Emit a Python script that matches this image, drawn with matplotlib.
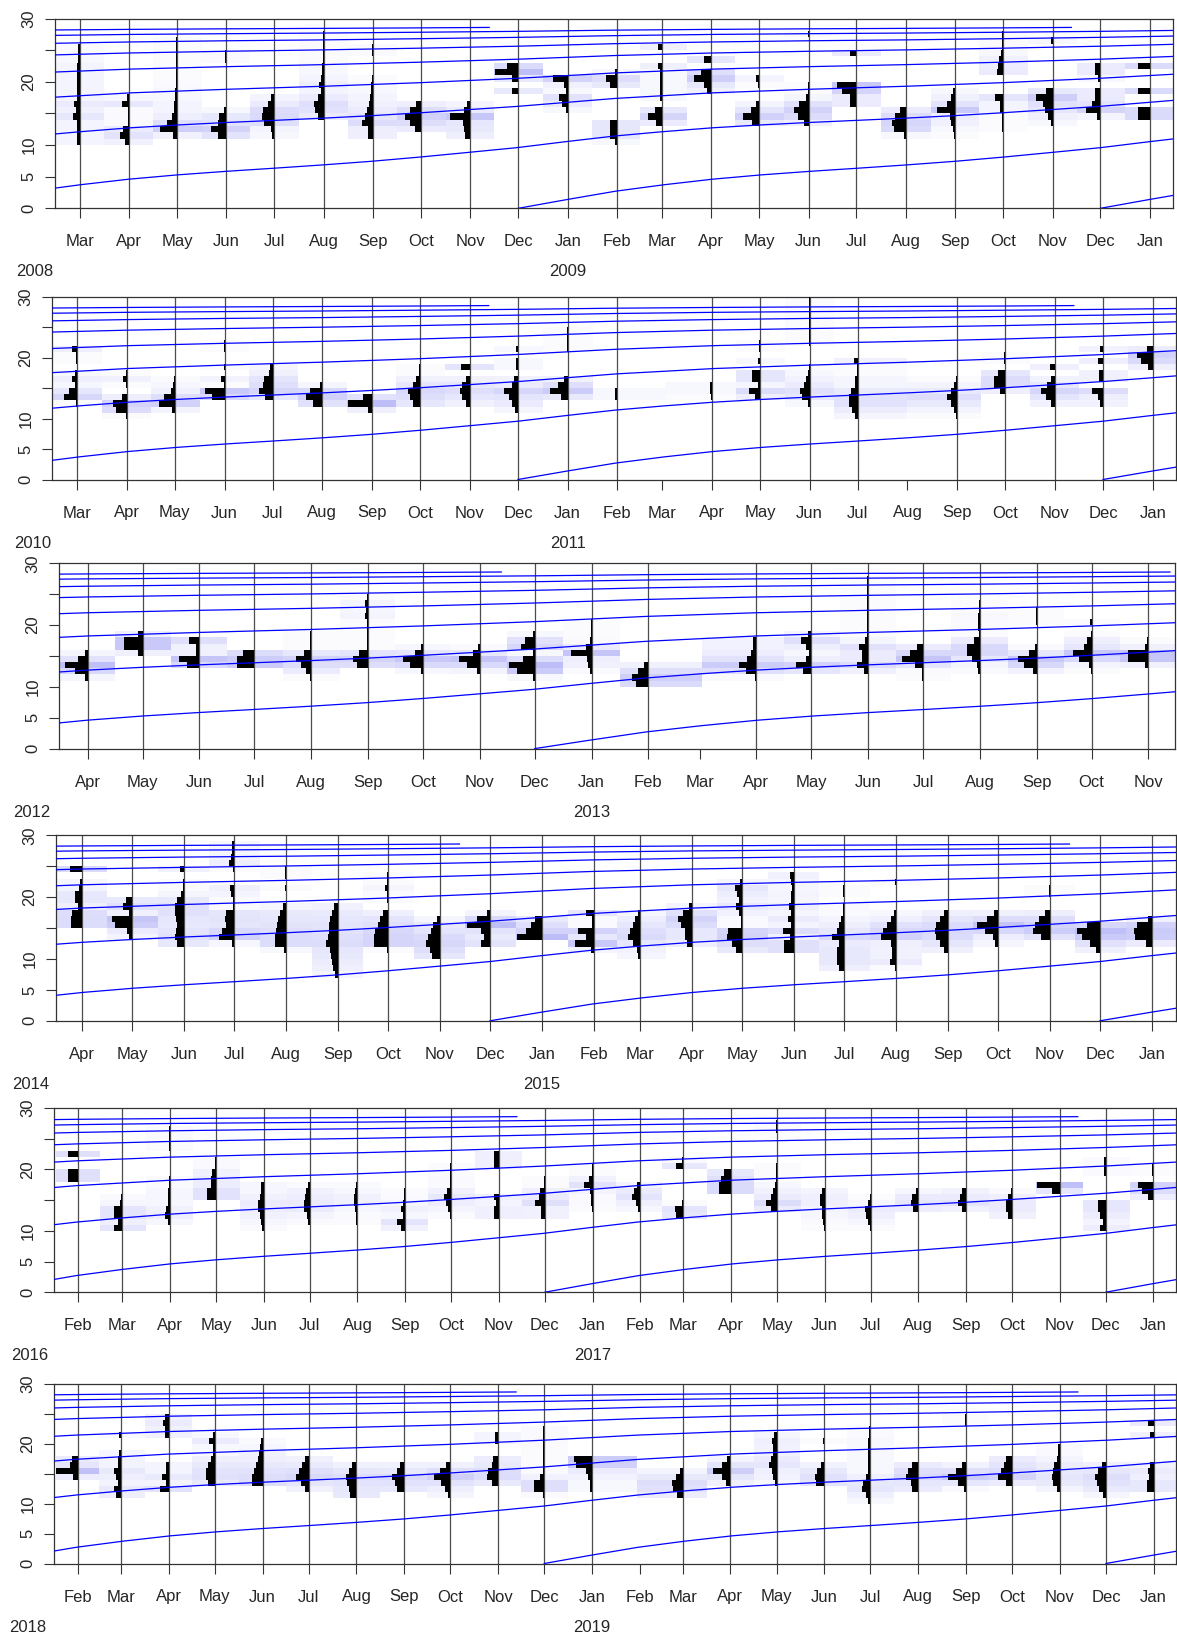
import datetime as dt
import numpy as np
import matplotlib
matplotlib.use("Agg")
import matplotlib.pyplot as plt
import matplotlib.dates as mdates
from matplotlib.transforms import offset_copy

plt.rcParams['font.family'] = ['Liberation Sans', 'DejaVu Sans']

# ---------------------------------------------------------------- data
# growth curve (length at age, age in months since the 1 Dec birth date)
GROWTH_AGE_MONTHS = [0, 1, 2, 3, 4, 5, 6, 7, 8, 9, 10, 11, 12, 13, 14, 15, 16, 17, 18,
                     19, 20, 21, 22, 23, 24, 26, 28, 30, 32, 34, 36, 38, 40, 42, 44, 46,
                     48, 50, 52, 54, 56, 58, 60, 62, 64, 66, 68, 70, 72, 74, 76, 78, 80,
                     82, 84, 86, 88, 90, 92, 94, 95.4]
GROWTH_LEN = [0, 1.38, 2.70, 3.72, 4.60, 5.28, 5.84, 6.34, 6.86, 7.43, 8.10, 8.84, 9.59,
              10.53, 11.42, 12.11, 12.71, 13.17, 13.56, 13.90, 14.25, 14.64, 15.10, 15.60,
              16.11, 17.36, 18.24, 18.81, 19.29, 19.86, 20.55, 21.40, 22.00, 22.39, 22.71,
              23.10, 23.57, 24.15, 24.55, 24.82, 25.04, 25.31, 25.62, 26.02, 26.29, 26.48,
              26.62, 26.81, 27.02, 27.29, 27.48, 27.60, 27.70, 27.83, 27.97, 28.16, 28.28,
              28.37, 28.44, 28.52, 28.59]

# sample months and length-frequency (bin lower bound -> relative frequency)
P1_DATES = ['2008-03', '2008-04', '2008-05', '2008-06', '2008-07', '2008-08', '2008-09',
            '2008-10', '2008-11', '2008-12', '2009-01', '2009-02', '2009-03', '2009-04',
            '2009-05', '2009-06', '2009-07', '2009-08', '2009-09', '2009-10', '2009-11',
            '2009-12', '2010-01']
P1_HIST = [
    {10: 3, 11: 3, 12: 3, 13: 3, 14: 7, 15: 4, 16: 6, 17: 3, 18: 3, 19: 3, 20: 3, 21: 3, 22: 3, 23: 2, 24: 1.5, 25: 1.5},
    {10: 4, 11: 8.7, 12: 6, 13: 1.5, 14: 1.5, 15: 1.5, 16: 7, 17: 2},
    {11: 4, 12: 16.7, 13: 10, 14: 5, 15: 3, 16: 3, 17: 2, 18: 2, 19: 1.5, 20: 1, 21: 1, 22: 1, 23: 1, 24: 1, 25: 1, 26: 1},
    {11: 8.7, 12: 15, 13: 8.7, 14: 7, 15: 2, 23: 1.5, 24: 1.5},
    {11: 2, 12: 3, 13: 10, 14: 12, 15: 11, 16: 6, 17: 3},
    {14: 6, 15: 9, 16: 10, 17: 6, 18: 3, 19: 5, 20: 3, 21: 2, 22: 2, 23: 1, 24: 1, 25: 1, 26: 1, 27: 1},
    {11: 5, 12: 5, 13: 11, 14: 8, 15: 6, 16: 4, 17: 3, 18: 2, 19: 2, 20: 1, 24: 1.5, 25: 1.5},
    {12: 5.7, 13: 10.7, 14: 15.7, 15: 10.7, 16: 5},
    {11: 5, 12: 6.7, 13: 7.7, 14: 20, 15: 6, 16: 3},
    {18: 6.7, 20: 6.7, 21: 23, 22: 11.7},
    {15: 2, 16: 6, 17: 9, 18: 2, 19: 4, 20: 15},
    {10: 2, 11: 7.3, 12: 7.3, 13: 7.3, 19: 6.7, 20: 10.7, 21: 2},
    {13: 6, 14: 14, 15: 7, 17: 2, 18: 2, 19: 2, 20: 2, 21: 2, 22: 4.3, 25: 4.3},
    {18: 4, 19: 7, 20: 17, 21: 10, 23: 7.3},
    {13: 6.7, 14: 15.7, 15: 8, 16: 3, 19: 1, 20: 3},
    {13: 4.3, 14: 11, 15: 15, 16: 9.3, 17: 2.7, 18: 1, 19: 1, 27: 1},
    {16: 6, 17: 6, 18: 14.3, 19: 19.3, 24: 6},
    {11: 2, 12: 12, 13: 13.7, 14: 11, 15: 6},
    {11: 1, 12: 2, 13: 4, 14: 5, 15: 18.3, 16: 8.7, 17: 4, 18: 2},
    {12: 1, 13: 1, 14: 1, 15: 3, 16: 3, 17: 8, 21: 6, 22: 5.3, 23: 3.7, 24: 2, 25: 1.5, 26: 1, 27: 1},
    {13: 2, 14: 4.3, 15: 7.7, 16: 9.3, 17: 16.7, 18: 6.7, 26: 2},
    {14: 3, 15: 14, 16: 8.3, 17: 5.7, 18: 5.7, 20: 2, 21: 5.7, 22: 5.7},
    {14: 12, 15: 12, 18: 12, 22: 12},
]

P2_DATES = ['2010-03', '2010-04', '2010-05', '2010-06', '2010-07', '2010-08', '2010-09',
            '2010-10', '2010-11', '2010-12', '2011-01', '2011-02', '2011-04', '2011-05',
            '2011-06', '2011-07', '2011-09', '2011-10', '2011-11', '2011-12', '2012-01']
P2_HIST = [
    {12: 1, 13: 13.3, 14: 7.7, 15: 2.3, 16: 5, 17: 2, 19: 1, 20: 1, 21: 5},
    {10: 1, 11: 11, 12: 14.3, 13: 5, 15: 1, 16: 4, 17: 1},
    {11: 3.3, 12: 15.7, 13: 10.7, 14: 4, 15: 2.3, 16: 1},
    {13: 12.7, 14: 19.3, 15: 1, 16: 3.3, 18: 1, 21: 1, 22: 1},
    {13: 7.7, 14: 14, 15: 10, 16: 8.3, 17: 4, 18: 2.7},
    {12: 9.3, 13: 16, 14: 12.7, 15: 2.7},
    {11: 4.3, 12: 24.3, 13: 9.3},
    {12: 7.5, 13: 10.5, 14: 12.5, 15: 7.5, 16: 4, 17: 1, 18: 1},
    {12: 4, 13: 7.5, 14: 10, 15: 7.5, 16: 4, 18: 8.5},
    {11: 2.5, 12: 6, 13: 8.5, 14: 13.5, 15: 6, 16: 3.5, 18: 2, 19: 2, 21: 2},
    {13: 6.5, 14: 17.5, 15: 10, 16: 4, 21: 1, 22: 1, 23: 1, 24: 1},
    {13: 2, 14: 2},
    {13: 1, 14: 2, 15: 2},
    {13: 5, 14: 11.5, 15: 2.5, 16: 8, 17: 8, 19: 2, 21: 1, 22: 1},
    {12: 2, 13: 7.5, 14: 9.5, 15: 6, 16: 3.5, 17: 2, 18: 1, 22: 1, 23: 1, 24: 1, 25: 1, 26: 1, 27: 1, 28: 1, 29: 1},
    {10: 2.5, 11: 5.5, 12: 9, 13: 9, 14: 6.5, 15: 2.5, 16: 2.5, 17: 1, 18: 1, 19: 4},
    {10: 1, 11: 3, 12: 6.5, 13: 10.5, 14: 6.5, 15: 3, 16: 1},
    {14: 5, 15: 11, 16: 11, 17: 7.5, 19: 1, 20: 1},
    {12: 3.5, 13: 8.5, 14: 13.5, 15: 7.5, 16: 3.5, 18: 4.5},
    {12: 3.5, 13: 5, 14: 11, 16: 4, 17: 4, 19: 5, 21: 3.5},
    {18: 4.5, 19: 12, 20: 15.5, 21: 5.5},
]

P3_DATES = ['2012-04', '2012-05', '2012-06', '2012-07', '2012-08', '2012-09', '2012-10',
            '2012-11', '2012-12', '2013-01', '2013-02', '2013-04', '2013-05', '2013-06',
            '2013-07', '2013-08', '2013-09', '2013-10', '2013-11']
P3_HIST = [
    {11: 2.7, 12: 13, 13: 22.6, 14: 9.2, 15: 2.7},
    {15: 4.2, 16: 18.8, 17: 18.8, 18: 4.2},
    {13: 12.6, 14: 20.3, 15: 3.8, 16: 3.8, 17: 10},
    {13: 17.2, 14: 17.2, 15: 11.5},
    {11: 1, 12: 5.7, 13: 10.7, 14: 15.3, 15: 6.9, 16: 1, 17: 1, 18: 1},
    {13: 10.7, 14: 14.5, 15: 8.8, 16: 1, 17: 1, 18: 1, 19: 1, 20: 1, 21: 3, 22: 2.3, 23: 3, 24: 1},
    {12: 2.3, 13: 12.6, 14: 19.5, 15: 8, 16: 2.3},
    {12: 3, 13: 12.6, 14: 21, 15: 6.9, 16: 1.5},
    {11: 2, 12: 18, 13: 26, 14: 11.5, 15: 2, 16: 13.4, 17: 9.6, 18: 2},
    {12: 1.5, 13: 3.8, 14: 5, 15: 20.3, 16: 5.7, 17: 1.5, 18: 1, 19: 1, 20: 1},
    {10: 12.2, 11: 16.4, 12: 10.3, 13: 3.8},
    {11: 1.5, 12: 10.3, 13: 17.5, 14: 9.1, 15: 5.3, 16: 3.4, 17: 3.4},
    {12: 8, 13: 15.2, 14: 5, 15: 2.3, 16: 5, 17: 10, 18: 3},
    {12: 4.6, 13: 11.4, 14: 5.7, 15: 5.7, 16: 9.5, 17: 2.7, 18: 1, 19: 1, 20: 1, 21: 1, 22: 1, 23: 1, 24: 1, 25: 1, 26: 1, 27: 1},
    {11: 1, 12: 1.5, 13: 8, 14: 20.6, 15: 13, 16: 6},
    {12: 1.5, 13: 2.7, 14: 7.6, 15: 13.3, 16: 12.6, 17: 5.7, 18: 1, 19: 1.5, 20: 1.5, 21: 2, 22: 1, 23: 1},
    {12: 3.4, 13: 13, 14: 18.7, 15: 7.2, 16: 1.5, 20: 1, 21: 1, 22: 1},
    {12: 1, 13: 3, 14: 12.6, 15: 19, 16: 7.6, 17: 5, 18: 1, 20: 1.5},
    {13: 3.8, 14: 20, 15: 20, 16: 3.8, 17: 1},
]

P4_DATES = ['2014-04', '2014-05', '2014-06', '2014-07', '2014-08', '2014-09', '2014-10',
            '2014-11', '2014-12', '2015-01', '2015-02', '2015-03', '2015-04', '2015-05',
            '2015-06', '2015-07', '2015-08', '2015-09', '2015-10', '2015-11', '2015-12',
            '2016-01']
P4_HIST = [
    {15: 11.5, 16: 11.5, 17: 10.7, 18: 4.2, 19: 6.9, 20: 6.9, 21: 3, 22: 2.3, 24: 11.9},
    {13: 3, 14: 5.7, 15: 17.2, 16: 20.3, 17: 3.8, 18: 9.6, 19: 6.5},
    {12: 6.9, 13: 9.6, 14: 8.4, 15: 6.9, 16: 7.7, 17: 9.6, 18: 9.6, 19: 6.9, 20: 2.7, 21: 1, 22: 1, 24: 3.8},
    {12: 2.3, 13: 15.7, 14: 12.6, 15: 8, 16: 8.8, 17: 8, 18: 1.5, 19: 1.5, 20: 3, 21: 4.2, 24: 1, 25: 5, 26: 3, 27: 2.3, 28: 2.3},
    {11: 2, 12: 11.5, 13: 11.5, 14: 10.3, 15: 8.8, 16: 7.7, 17: 6.5, 18: 2.7, 21: 1, 23: 1, 24: 1},
    {7: 2.7, 8: 4.6, 9: 5.4, 10: 6.5, 11: 7.7, 12: 11.5, 13: 10, 14: 9.2, 15: 8.4, 16: 7.7, 17: 6.1, 18: 3.8},
    {11: 1, 12: 14.2, 13: 14.2, 14: 13, 15: 10.3, 16: 8.4, 17: 4.6, 19: 1.5, 20: 1.5, 21: 2.7, 22: 1, 23: 1},
    {10: 7.7, 11: 10.3, 12: 13.4, 13: 12.2, 14: 8.4, 15: 6.5, 16: 2.7},
    {12: 8.8, 13: 6.1, 14: 8.8, 15: 23, 16: 12.6, 17: 3},
    {13: 24.5, 14: 15.3, 15: 10.3, 16: 6.5},
    {11: 3, 12: 19, 13: 7.7, 14: 15.3, 15: 1.5, 16: 1.5, 17: 7.6},
    {10: 2.7, 11: 3.4, 12: 7.6, 13: 12.2, 14: 10.3, 15: 7.6, 16: 5.3, 17: 2.7},
    {12: 5, 13: 6.9, 14: 6.9, 15: 11.4, 16: 14.5, 17: 9.5, 18: 3},
    {11: 6.5, 12: 10.3, 13: 14.9, 14: 14, 15: 1.5, 16: 1.5, 17: 3.4, 18: 6.5, 19: 3.4, 20: 5.3, 21: 7.2, 22: 2.7},
    {11: 9.9, 12: 9.9, 13: 3.8, 14: 10.7, 15: 3, 16: 5.7, 17: 2.7, 18: 5, 19: 2.7, 20: 3, 21: 2.3, 22: 2.7, 23: 3.8},
    {8: 5, 9: 6.9, 10: 6.9, 11: 6.9, 12: 5.7, 13: 12.6, 14: 7.6, 15: 5, 16: 3, 17: 1.5, 18: 1.5, 20: 1, 21: 1},
    {8: 1.5, 9: 5.7, 10: 3.8, 11: 3.8, 12: 4.6, 13: 15.2, 14: 13.3, 15: 9.5, 16: 4.6, 17: 2, 22: 1},
    {11: 4.2, 12: 8, 13: 11.8, 14: 12.6, 15: 11.8, 16: 8, 17: 4.2},
    {12: 2.7, 13: 5.3, 14: 13.3, 15: 21, 16: 11, 17: 3.8},
    {13: 8.8, 14: 17.1, 15: 14.5, 16: 10.7, 17: 5, 20: 1, 21: 1},
    {11: 3.8, 12: 9.5, 13: 17.9, 14: 22.8, 15: 13.3},
    {12: 5.7, 13: 17.1, 14: 17.9, 15: 15.2, 16: 3.8},
]

P5_DATES = ['2016-02', '2016-03', '2016-04', '2016-05', '2016-06', '2016-07', '2016-08',
            '2016-09', '2016-10', '2016-11', '2016-12', '2017-01', '2017-02', '2017-03',
            '2017-04', '2017-05', '2017-06', '2017-07', '2017-08', '2017-09', '2017-10',
            '2017-11', '2017-12', '2018-01']
P5_HIST = [
    {18: 9.8, 19: 9.8, 22: 9.8},
    {10: 8.3, 11: 4.5, 12: 8.3, 13: 8.3, 14: 2.3, 15: 1.5},
    {11: 2.3, 12: 5.3, 13: 3.8, 14: 2.3, 15: 2.3, 16: 2.3, 17: 1.5, 18: 1.5, 23: 1, 24: 1, 25: 1.5, 26: 1.5},
    {15: 9, 16: 9, 17: 5.3, 18: 5.3, 19: 3.8, 20: 1.5, 21: 1.5},
    {10: 1.5, 11: 2.3, 12: 3.8, 13: 5.3, 14: 6, 15: 3.8, 16: 2.3, 17: 2.3},
    {11: 1.5, 12: 3, 13: 6, 14: 6, 15: 5.3, 16: 3.8, 17: 1.5},
    {11: 1, 12: 1.5, 13: 2.3, 14: 3.8, 15: 3.8, 16: 2.3, 17: 1.5},
    {10: 3.8, 11: 8.3, 12: 2.3, 13: 3.8, 14: 2.3, 15: 1.5, 16: 1},
    {12: 1.5, 13: 3, 14: 5.3, 15: 6.8, 16: 3.8, 17: 1.5, 18: 1.5, 19: 1, 20: 1},
    {12: 4.5, 13: 4.5, 14: 3, 15: 4.5, 20: 4.5, 21: 4.5, 22: 4.5},
    {12: 3.8, 13: 3.8, 14: 9.8, 15: 6, 16: 4.5, 17: 1, 18: 1},
    {13: 1, 14: 1.5, 15: 1.5, 16: 3, 17: 9, 18: 3.8, 19: 1, 20: 1},
    {13: 2.3, 14: 4.5, 15: 8.3, 16: 6, 17: 3},
    {12: 6.8, 13: 8.3, 14: 1, 20: 6.8, 21: 1.5},
    {16: 12, 17: 12, 18: 9.8, 19: 6.8},
    {13: 6, 14: 11.3, 15: 6, 16: 3.8, 17: 2.3, 18: 1, 19: 1, 20: 1, 26: 1, 27: 1},
    {10: 1, 11: 1.5, 12: 2.3, 13: 3, 14: 4.5, 15: 4.5, 16: 3},
    {10: 1, 11: 2.3, 12: 4.5, 13: 6, 14: 2.3, 15: 1},
    {13: 5.3, 14: 7.5, 15: 6, 16: 2.3},
    {13: 3.8, 14: 8.3, 15: 6, 16: 3.8},
    {12: 3.8, 13: 6, 14: 6, 15: 4.5, 16: 1.5},
    {16: 7.5, 17: 22.5},
    {10: 5.3, 11: 3, 12: 5.3, 13: 7.5, 14: 7.5, 19: 1.5, 20: 1.5, 21: 1.5},
    {15: 5.3, 16: 11.3, 17: 15, 19: 1, 20: 1},
]

P6_DATES = ['2018-02', '2018-03', '2018-04', '2018-05', '2018-06', '2018-07', '2018-08',
            '2018-09', '2018-10', '2018-11', '2018-12', '2019-01', '2019-03', '2019-04',
            '2019-05', '2019-06', '2019-07', '2019-08', '2019-09', '2019-10', '2019-11',
            '2019-12', '2020-01']
P6_HIST = [
    {14: 5.3, 15: 22, 16: 8, 17: 5.7},
    {11: 5, 12: 6.7, 13: 3.3, 14: 5, 15: 6.7, 16: 3.3, 17: 3.3, 18: 2.3, 21: 1.7},
    {12: 9, 13: 3, 14: 6.3, 15: 3, 16: 3, 21: 4, 22: 4, 23: 5.7, 24: 4},
    {13: 6.7, 14: 9.3, 15: 8.7, 16: 6.7, 17: 4.3, 18: 1.5, 19: 2, 20: 6, 21: 2},
    {13: 10.7, 14: 10.7, 15: 9, 16: 6.7, 17: 4.7, 18: 4, 19: 2.3, 20: 1.5},
    {12: 3.7, 13: 8, 14: 12.3, 15: 9.7, 16: 6.3, 17: 3.7},
    {11: 6.7, 12: 7.3, 13: 9, 14: 10.7, 15: 7.3, 16: 4},
    {12: 7, 13: 9, 14: 12, 15: 7, 16: 4},
    {11: 2.5, 12: 5, 13: 9, 14: 16.6, 15: 10, 16: 4},
    {13: 6.5, 14: 11.5, 15: 10.5, 16: 6.5, 17: 5.5, 20: 3, 21: 3},
    {11: 1.5, 12: 10, 13: 10, 14: 4, 15: 1.5, 16: 1, 17: 1, 18: 1, 19: 1, 20: 1.5, 21: 1.5, 22: 1.5},
    {12: 2, 13: 2, 14: 3.5, 15: 6, 16: 16, 17: 17.6},
    {11: 5.5, 12: 9.5, 13: 10.5, 14: 6.5, 15: 3},
    {13: 4, 14: 8, 15: 17, 16: 8, 17: 3},
    {13: 2, 14: 3.5, 15: 4.5, 16: 7.5, 17: 6, 18: 3.5, 19: 3.5, 20: 4.5, 21: 2.5},
    {13: 8.5, 14: 9.5, 15: 7, 16: 3.5, 20: 1},
    {10: 2, 11: 4.5, 12: 8, 13: 7, 14: 4.5, 15: 2, 16: 2, 17: 2, 18: 2, 19: 2, 20: 2, 21: 1.5, 22: 1.5},
    {12: 6, 13: 7.5, 14: 12.5, 15: 10, 16: 6},
    {12: 1.5, 13: 7.5, 14: 17.5, 15: 10, 16: 3.5, 23: 1, 24: 1},
    {13: 6, 14: 14.5, 15: 11, 16: 8.5, 17: 6},
    {12: 3, 13: 6.5, 14: 8, 15: 6.5, 16: 5.5, 17: 3, 18: 1.5, 19: 1.5},
    {11: 2.5, 12: 6.5, 13: 9, 14: 10.5, 15: 7.5, 16: 4},
    {12: 7, 13: 7, 14: 4.5, 15: 6, 16: 3.5, 21: 4, 23: 6},
]

PANEL_DATES = [P1_DATES, P2_DATES, P3_DATES, P4_DATES, P5_DATES, P6_DATES]
PANEL_HIST = [P1_HIST, P2_HIST, P3_HIST, P4_HIST, P5_HIST, P6_HIST]
PANEL_YEARS = [(2008, 2009), (2010, 2011), (2012, 2013), (2014, 2015), (2016, 2017), (2018, 2019)]
Y_TICKS = [0, 5, 10, 15, 20, 25, 30]
Y_TICK_LABELS = ['0', '5', '10', '', '20', '', '30']
MONTH_NAMES = ['Jan', 'Feb', 'Mar', 'Apr', 'May', 'Jun', 'Jul', 'Aug', 'Sep', 'Oct', 'Nov', 'Dec']

# ---------------------------------------------------------------- layout
W, H, DPI = 1177, 1632, 100
# left, top, right, bottom in pixels
PANEL_BOX = [(55, 18.5, 1173, 208.3), (52.3, 297, 1176, 479.5), (59.3, 563.3, 1175, 748.6),
             (56.3, 835.3, 1176, 1020.8), (54, 1108, 1175.7, 1292.2), (54, 1383.5, 1176, 1563.5)]
YEAR_LABEL_X = [35, 33, 32, 31, 30, 28]
TXT = '#262626'
FS = 12


def to_num(s):
    y, m = s.split('-')
    return mdates.date2num(dt.datetime(int(y), int(m), 1))


def tile_color(f):
    t = min(f / 24.0, 1.0) ** 0.85
    cmax = np.array([0.74, 0.74, 0.97])
    return tuple(1 - t * (1 - cmax))


fig = plt.figure(figsize=(W / DPI, H / DPI), dpi=DPI)

for p in range(6):
    l, t, r, b = PANEL_BOX[p]
    ax = fig.add_axes([l / W, 1 - b / H, (r - l) / W, (b - t) / H])
    xs = np.array([to_num(s) for s in PANEL_DATES[p]])
    x0, x1 = xs[0] - 15.5, xs[-1] + 14.5
    ax.set_xlim(x0, x1)
    ax.set_ylim(0, 30)
    px_per_day = (r - l) / (x1 - x0)

    mids = (xs[:-1] + xs[1:]) / 2
    lefts = np.concatenate([[xs[0] - (xs[1] - xs[0]) / 2], mids])
    rights = np.concatenate([mids, [xs[-1] + (xs[-1] - xs[-2]) / 2]])

    # background tiles
    for i, h in enumerate(PANEL_HIST[p]):
        bins = sorted(h)
        cols = [tile_color(h[k]) for k in bins]
        ax.barh(bins, rights[i] - lefts[i], left=lefts[i], height=1, align='edge',
                color=cols, linewidth=0, antialiased=False, zorder=1)

    # sample lines
    for x in xs:
        ax.axvline(x, color='#4d4d4d', lw=0.9, zorder=2)

    # histograms
    for i, h in enumerate(PANEL_HIST[p]):
        bins = sorted(h)
        lens = np.array([h[k] for k in bins]) / px_per_day
        ax.barh(bins, lens, left=xs[i] - lens, height=1, align='edge',
                color='black', linewidth=0, antialiased=False, zorder=3)

    # growth curves
    y0, y1 = PANEL_YEARS[p]
    ages = np.array(GROWTH_AGE_MONTHS) * 30.4375
    for by in range(y0 - 9, y1 + 1):
        birth = mdates.date2num(dt.datetime(by, 12, 1))
        ax.plot(birth + ages, GROWTH_LEN, color='#0000ff', lw=0.9, zorder=4)

    # axes styling
    for sp in ax.spines.values():
        sp.set_color('#333333')
        sp.set_linewidth(0.9)
    ax.set_yticks(Y_TICKS)
    ax.set_yticklabels([])
    months = []
    yy, mm = y0 - 1, 1
    while True:
        d = mdates.date2num(dt.datetime(yy, mm, 1))
        if d > x1:
            break
        if d >= x0:
            months.append((d, mm))
        mm += 1
        if mm > 12:
            mm = 1
            yy += 1
    ax.set_xticks([d for d, _ in months])
    ax.set_xticklabels([])
    ax.tick_params(axis='both', direction='out', length=7.2, width=0.8, color='#333333')

    ylab_tr = offset_copy(ax.get_yaxis_transform(), fig=fig, x=-21.7, y=0, units='dots')
    for v, lab in zip(Y_TICKS, Y_TICK_LABELS):
        if lab:
            ax.text(0, v, lab, transform=ylab_tr, rotation=90, rotation_mode='anchor',
                    ha='center', va='baseline', fontsize=FS, color=TXT)
    mlab_tr = offset_copy(ax.get_xaxis_transform(), fig=fig, x=0, y=-38, units='dots')
    for d, m in months:
        ax.text(d, 0, MONTH_NAMES[m - 1], transform=mlab_tr, ha='center', va='baseline',
                fontsize=FS, color=TXT)
    ylab2_tr = offset_copy(ax.get_xaxis_transform(), fig=fig, x=0, y=-68, units='dots')
    ax.text(mdates.date2num(dt.datetime(y1, 1, 1)), 0, str(y1), transform=ylab2_tr,
            ha='center', va='baseline', fontsize=FS, color=TXT)
    fig.text(YEAR_LABEL_X[p] / W, 1 - (b + 68) / H, str(y0), ha='center', va='baseline',
             fontsize=FS, color=TXT)

fig.savefig('out.png', dpi=DPI)
